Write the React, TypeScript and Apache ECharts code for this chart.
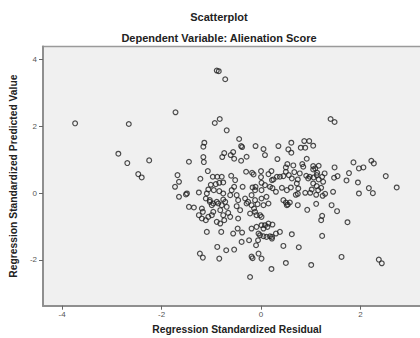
import React, { useEffect, useRef } from "react";
import * as echarts from "echarts";

const chartTitle = "Scatterplot";
const chartSubtitle = "Dependent Variable: Alienation Score";
const xAxisTitle = "Regression Standardized Residual";
const yAxisTitle = "Regression Standardized Predicted Value";
const xTickValues = [-4, -2, 0, 2];
const yTickValues = [-2, 0, 2, 4];

const residuals = [
  -3.74, -2.66, -2.87, -2.69, -2.47, -2.40, -2.25, -0.89, -0.85, -0.72,
  -1.72, -0.83, -0.93, -0.69, -0.44, -1.14, -1.16, -0.40, -0.38, -0.11,
  0.05, 0.08, 0.35, 0.33, -0.74, -0.78, -0.56, -0.61, -0.54, -0.40,
  -0.29, -1.16, -1.15, -1.45, -1.07, -0.97, -0.88, -0.79, -1.22, -1.68,
  -1.65, -0.60, -0.52, -0.30, -0.18, -0.15, 0.00, 0.00, 0.15, 0.21,
  0.25, 0.32, -0.76, -1.73, -1.01, -0.91, -0.37, -0.11, 1.40, 1.48,
  0.55, 0.61, 0.61, 0.87, 0.97, 1.05, 0.80, 0.89, 0.92, 0.53,
  0.50, 0.65, 0.83, 0.85, 1.05, 1.09, 1.16, 1.13, 1.48, 1.86,
  1.97, 2.06, 2.22, 2.27, 1.77, 2.51, 1.54, 1.47, 1.72, 1.95,
  1.28, 1.23, 0.38, 0.45, 0.50, 0.56, 0.67, 0.62, 0.74, 0.91,
  0.98, 1.06, 1.12, 2.17, 2.73, 0.78, 0.95, 1.16, 1.25, 1.05,
  2.25, 1.97, 1.53, 1.74, 1.23, 1.21, 1.23, 0.93, 1.11, 0.74,
  1.45, 1.29, 1.24, 1.11, 0.99, 1.02, 0.89, 0.74, 0.70, 0.60,
  0.42, 0.30, 0.23, 0.45, 0.50, 0.54, 0.58, 0.23, 0.38, 0.30,
  0.22, 0.62, 0.45, 0.76, 1.62, 2.37, 2.43, 0.50, 1.01, 0.21,
  1.05, 1.12, 1.15, 1.21, 0.72, 0.75, 0.52, 0.22, 0.18, 0.01,
  0.08, 0.01, 0.11, 0.15, 0.05, 0.01, 0.52, 1.42, -0.02, 0.01,
  0.08, 0.15, 0.13, -0.02, 0.05, 0.11, 0.18, 0.22, 0.01, -1.25,
  -1.17, -1.19, -1.11, -1.06, -0.99, -0.96, -1.09, -1.03, -0.96, -0.99,
  -0.86, -0.79, -0.69, -0.72, -0.82, -0.76, -0.74, -0.62, -0.66, -0.89,
  -0.82, -0.80, -0.42, -0.49, -0.56, -0.47, -0.38, -0.39, -0.24, -0.26,
  -0.19, -0.14, -0.22, -0.09, -0.12, -0.19, -0.09, 0.01, -0.05, -0.10,
  -0.05, -0.19, -0.17, -0.88, -0.70, -0.54, -1.23, -1.17, -0.84, -0.22,
  -1.65, -1.51, -1.45, -1.35, -0.46, -0.17, -0.12, -0.84, -1.06, -0.95,
  -0.84, -1.49, -1.25, -1.09, -1.11, -1.03, -0.89, -0.76, -0.76, -0.62,
  -0.59, -0.54, -0.49, -0.46, -0.32, -0.29, -0.19, -0.12, -0.07, -1.19,
  -0.06, 0.05,
];

const predicted = [
  2.09, 2.07, 1.18, 0.90, 0.57, 0.47, 0.98, 3.67, 3.65, 3.41,
  2.42, 2.22, 2.10, 1.88, 1.62, 1.51, 1.39, 1.41, 1.38, 1.41,
  1.32, 1.14, 1.41, 1.02, 1.20, 1.08, 1.23, 1.14, 1.03, 0.97,
  1.09, 1.08, 0.93, 0.94, 0.66, 0.49, 0.49, 0.49, 0.43, 0.54,
  0.34, 0.52, 0.39, 0.64, 0.61, 0.56, 0.66, 0.48, 0.57, 0.66,
  0.41, 0.49, 0.32, 0.19, 0.25, 0.27, 0.19, 0.19, 2.22, 2.13,
  1.31, 1.51, 1.21, 1.56, 1.56, 1.42, 1.36, 1.36, 1.03, 0.87,
  0.77, 0.83, 0.87, 0.79, 0.81, 0.74, 0.82, 0.61, 0.77, 0.92,
  0.74, 0.77, 0.97, 0.89, 0.60, 0.51, 0.51, 0.46, 0.38, 0.32,
  0.59, 0.49, 0.49, 0.51, 0.64, 0.54, 0.63, 0.44, 0.41, 0.52,
  0.49, 0.47, 0.54, 0.15, 0.17, 0.59, 0.44, 0.41, 0.34, 0.71,
  0.00, -0.01, -0.54, -0.87, -0.68, -0.81, -1.28, -0.50, -0.32, -0.36,
  0.04, -0.02, -0.08, -0.05, 0.01, 0.11, 0.01, -0.02, -0.05, 0.17,
  0.16, 0.04, 0.15, -0.21, -0.28, -0.34, -0.28, -0.94, -1.16, -1.21,
  -1.31, -1.23, -1.58, -1.62, -1.91, -1.99, -2.10, -2.09, -2.15, -2.27,
  0.29, 0.21, 0.09, 0.16, 0.29, 0.14, 0.09, 0.39, 0.19, 0.31,
  0.24, 0.09, -0.11, -0.31, -0.36, -0.16, -0.36, -0.36, -0.66, -0.71,
  -0.96, -0.91, -1.01, -1.26, -1.29, -1.31, -1.29, -1.36, -1.96, -0.66,
  -0.56, -0.76, -0.81, -0.71, -0.66, -0.56, -1.16, -0.26, -0.31, -0.36,
  -0.31, -0.36, -0.41, -0.26, -0.51, -0.66, -0.81, -0.71, -0.59, -0.86,
  -0.91, -1.16, -0.51, -0.39, -1.21, -1.06, -1.18, -1.46, -1.41, -0.26,
  -0.36, -0.46, -0.61, -0.66, -0.56, -1.06, -1.01, -0.96, -1.21, -1.56,
  -1.81, -1.90, -1.95, -1.61, -1.71, -1.69, -1.81, -1.93, -1.96, -2.51,
  -0.11, -0.04, -0.41, -0.43, -0.76, 0.17, 0.09, 0.31, 0.11, 0.09,
  0.06, -0.01, 0.02, -0.01, -0.16, -0.21, -0.26, -0.01, -0.19, -0.06,
  0.09, 0.19, -0.06, -0.21, -0.16, -0.31, -0.06, -0.21, -0.33, -0.46,
  -1.41, -1.06,
];

const FONT = '"Liberation Sans", Arial, sans-serif';

export default function App() {
  const ref = useRef<HTMLDivElement>(null);

  useEffect(() => {
    document.body.style.margin = "0";
    if (!ref.current) return;
    const chart = echarts.init(ref.current, undefined, { renderer: "svg" });
    const points = residuals.map((x, i) => [x, predicted[i]]);
    chart.setOption({
      animation: false,
      backgroundColor: "#ffffff",
      graphic: [
        {
          type: "text",
          x: 219,
          y: 17,
          style: {
            text: chartTitle,
            align: "center",
            verticalAlign: "middle",
            textAlign: "center",
            textVerticalAlign: "middle",
            font: `bold 11px ${FONT}`,
            fill: "#222222",
          },
        },
        {
          type: "text",
          x: 219,
          y: 37.5,
          style: {
            text: chartSubtitle,
            align: "center",
            verticalAlign: "middle",
            textAlign: "center",
            textVerticalAlign: "middle",
            font: `bold 11px ${FONT}`,
            fill: "#222222",
          },
        },
      ],
      grid: {
        left: 43,
        top: 46.5,
        right: -11,
        bottom: 32.3,
        containLabel: false,
        outerBoundsMode: "none",
        show: true,
        backgroundColor: "#f0f0f0",
        borderColor: "#9a9a9a",
        borderWidth: 1.5,
      },
      xAxis: {
        type: "value",
        min: -4.386,
        max: 3.42,
        name: xAxisTitle,
        nameLocation: "middle",
        nameGap: 19,
        nameTextStyle: { fontFamily: FONT, fontWeight: "bold", fontSize: 10.3, color: "#222222" },
        splitLine: { show: false },
        axisLine: { show: true, onZero: false, lineStyle: { color: "#8f8f8f", width: 2 } },
        axisTick: { show: true, length: 4, customValues: xTickValues, lineStyle: { color: "#666666", width: 1 } },
        axisLabel: {
          show: true,
          customValues: xTickValues,
          margin: 5,
          fontFamily: FONT,
          fontSize: 8,
          color: "#555555",
        },
      },
      yAxis: {
        type: "value",
        min: -3.37,
        max: 4.39,
        name: yAxisTitle,
        nameLocation: "middle",
        nameGap: 16,
        nameTextStyle: { fontFamily: FONT, fontWeight: "bold", fontSize: 10.3, color: "#222222" },
        splitLine: { show: false },
        axisLine: { show: true, onZero: false, lineStyle: { color: "#8f8f8f", width: 2 } },
        axisTick: { show: true, length: 4, customValues: yTickValues, lineStyle: { color: "#666666", width: 1 } },
        axisLabel: {
          show: true,
          customValues: yTickValues,
          margin: 6,
          fontFamily: FONT,
          fontSize: 8,
          color: "#555555",
        },
      },
      series: [
        {
          type: "scatter",
          data: points,
          symbol: "circle",
          symbolSize: 4.8,
          itemStyle: {
            color: "rgba(0,0,0,0)",
            borderColor: "#222222",
            borderWidth: 1.2,
          },
          silent: true,
        },
      ],
    });
    return () => chart.dispose();
  }, []);

  return <div ref={ref} style={{ width: 420, height: 338 }} />;
}
